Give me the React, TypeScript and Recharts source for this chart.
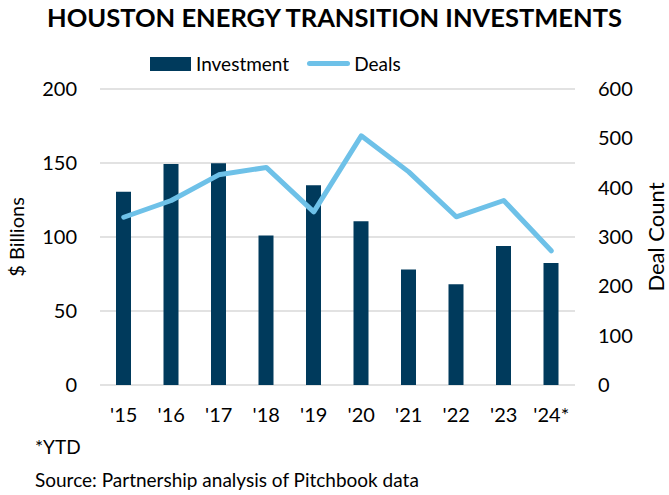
import { ComposedChart, Bar, Line, XAxis, YAxis, CartesianGrid } from "recharts";

const years = ["'15", "'16", "'17", "'18", "'19", "'20", "'21", "'22", "'23", "'24*"];
const investment = [130.5, 149.3, 149.8, 101, 135, 110.6, 78, 68, 94, 82.4];
const deals = [340, 374, 426, 441, 351, 505, 432, 341, 374, 272];
const leftTicks = [0, 50, 100, 150, 200];
const rightTicks = [0, 100, 200, 300, 400, 500, 600];

const FONT = "Lato, 'Open Sans', sans-serif";
const BAR = "#003a5c";
const LINE = "#6ec1e8";

const data = years.map((y, i) => ({ year: y, Investment: investment[i], Deals: deals[i] }));

export default function App() {
  return (
    <div style={{ position: "absolute", left: 0, top: 0, width: 669, height: 495, background: "#fff", fontFamily: FONT }}>
      <div style={{ position: "absolute", top: 2, left: 0, width: 669, textAlign: "center", fontSize: 25.5, fontWeight: 700, color: "#000" }}>
        HOUSTON ENERGY TRANSITION INVESTMENTS
      </div>
      <div style={{ position: "absolute", top: 52, left: 150, display: "flex", alignItems: "center", fontSize: 19, color: "#000" }}>
        <span style={{ width: 41, height: 14, background: BAR, display: "inline-block", marginRight: 5 }} />
        <span>Investment</span>
        <span style={{ width: 43, height: 5, borderRadius: 3, background: LINE, display: "inline-block", marginLeft: 18, marginRight: 4 }} />
        <span>Deals</span>
      </div>
      <ComposedChart width={669} height={430} data={data} margin={{ top: 89, right: 0, bottom: 0, left: 0 }}>
        <CartesianGrid vertical={false} stroke="#d9d9d9" strokeWidth={1.5} yAxisId="left" />
        <XAxis dataKey="year" axisLine={false} tickLine={false} tickSize={0} tickMargin={23} height={45}
          tick={{ fontSize: 20, fill: "#000", fontFamily: FONT }} interval={0} />
        <YAxis yAxisId="left" domain={[0, 200]} ticks={leftTicks} width={100} axisLine={false} tickLine={false}
          tickSize={0} tickMargin={23} tick={{ fontSize: 20, fill: "#000", fontFamily: FONT }}
          label={{ value: "$ Billions", angle: -90, position: "insideLeft", dx: 12, fill: "#000", fontSize: 20, fontFamily: FONT, style: { textAnchor: "middle" } }} />
        <YAxis yAxisId="right" orientation="right" domain={[0, 600]} ticks={rightTicks} width={94} axisLine={false}
          tickLine={false} tickSize={0} tickMargin={23} tick={{ fontSize: 20, fill: "#000", fontFamily: FONT, textAnchor: "start" }}
          label={{ value: "Deal Count", angle: -90, position: "insideRight", dx: -8, fill: "#000", fontSize: 22, fontFamily: FONT, style: { textAnchor: "middle" } }} />
        <Bar yAxisId="left" dataKey="Investment" fill={BAR} barSize={15} isAnimationActive={false} />
        <Line yAxisId="right" dataKey="Deals" type="linear" stroke={LINE} strokeWidth={5} dot={false}
          strokeLinejoin="round" strokeLinecap="round" isAnimationActive={false} />
      </ComposedChart>
      <div style={{ position: "absolute", left: 35, top: 435, fontSize: 19, color: "#000" }}>*YTD</div>
      <div style={{ position: "absolute", left: 35, top: 468, fontSize: 19, color: "#000" }}>Source: Partnership analysis of Pitchbook data</div>
    </div>
  );
}
